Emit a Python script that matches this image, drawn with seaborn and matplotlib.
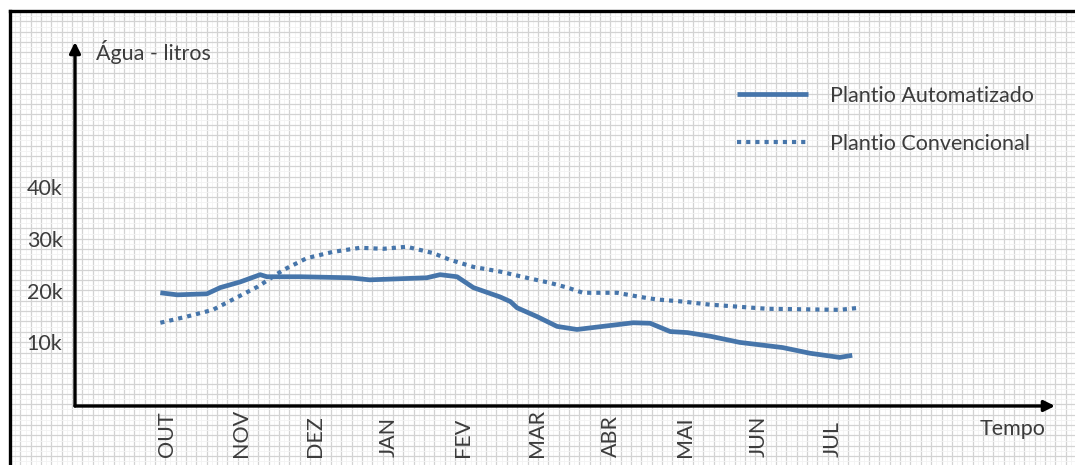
import numpy as np
import matplotlib
matplotlib.use('Agg')
import matplotlib.pyplot as plt
import seaborn as sns
from matplotlib.ticker import MultipleLocator, FuncFormatter

# dados (x em meses a partir de OUT, y em litros)
meses = ['OUT', 'NOV', 'DEZ', 'JAN', 'FEV', 'MAR', 'ABR', 'MAI', 'JUN', 'JUL']

auto_x = [-0.09, 0.14, 0.54, 0.72, 0.99, 1.26, 1.35, 1.80, 2.47, 2.74, 3.51, 3.69,
          3.92, 4.14, 4.50, 4.64, 4.73, 5.00, 5.27, 5.54, 5.89, 6.30, 6.53, 6.80,
          7.03, 7.34, 7.74, 8.32, 8.69, 9.09, 9.26]
auto_y = [19600, 19200, 19400, 20600, 21700, 23100, 22700, 22700, 22500, 22100,
          22500, 23100, 22700, 20600, 18800, 17900, 16700, 15000, 13100, 12500,
          13100, 13800, 13700, 12100, 11900, 11200, 10000, 9000, 7900, 7100, 7500]

conv_x = [-0.09, 0.27, 0.62, 0.89, 1.23, 1.57, 1.89, 2.24, 2.61, 2.92, 3.24, 3.59,
          3.82, 4.14, 4.50, 4.86, 5.18, 5.41, 5.62, 6.08, 6.39, 6.62, 6.97, 7.34,
          8.11, 9.09, 9.36]
conv_y = [13800, 15000, 16300, 18300, 20800, 24000, 26300, 27500, 28300, 28100,
          28500, 27300, 26000, 24600, 23700, 22500, 21500, 20600, 19600, 19600,
          18800, 18300, 17900, 17300, 16500, 16300, 16700]

y_ticks = [10000, 20000, 30000, 40000]

sns.set_style('white')
plt.rcParams['font.family'] = ['Lato', 'DejaVu Sans']
cor_texto = '#3c3c3c'
cor_linha = '#4675aa'
fs = 15.5

W, H = 1075, 465
fig = plt.figure(figsize=(W / 100, H / 100), dpi=100)
fig.patch.set_facecolor('white')

# fundo de papel milimetrado com borda
bg = fig.add_axes([10 / W, 0, 1 - 10 / W, (H - 11) / H], zorder=0)
bg.set_xlim(0, W - 10)
bg.set_ylim(H - 11, 0)
bg.xaxis.set_major_locator(MultipleLocator(10.35))
bg.yaxis.set_major_locator(MultipleLocator(10.35))
bg.xaxis.set_minor_locator(MultipleLocator(10.35 / 2))
bg.yaxis.set_minor_locator(MultipleLocator(10.35 / 2))
bg.grid(which='major', color='#d3d3d3', lw=0.9)
bg.grid(which='minor', color='#f3f3f3', lw=0.6)
bg.tick_params(which='both', length=0, labelbottom=False, labelleft=False)
for s in ['right', 'bottom']:
    bg.spines[s].set_visible(False)
for s in ['left', 'top']:
    bg.spines[s].set_linewidth(2.4)
    bg.spines[s].set_color('black')

# grafico principal
ax = fig.add_axes([75 / W, (H - 406) / H, (1055 - 75) / W, (406 - 42) / H], zorder=2)
ax.patch.set_alpha(0)

sns.lineplot(x=auto_x, y=auto_y, ax=ax, color=cor_linha, lw=3.4, sort=False,
             label='Plantio Automatizado', solid_capstyle='butt')
sns.lineplot(x=conv_x, y=conv_y, ax=ax, color=cor_linha, lw=3.0, sort=False,
             linestyle=(0, (1, 1.2)), dash_capstyle='butt',
             label='Plantio Convencional')

ax.set_xlim(-1.243, 12.0)
ax.set_ylim(-2300, 68100)

for s in ax.spines.values():
    s.set_visible(False)
ax.annotate('', xy=(0, 1), xytext=(0, 0), xycoords='axes fraction',
            arrowprops=dict(arrowstyle='-|>', lw=2.4, color='black',
                            mutation_scale=16, shrinkA=0, shrinkB=0))
ax.annotate('', xy=(1, 0), xytext=(0, 0), xycoords='axes fraction',
            arrowprops=dict(arrowstyle='-|>', lw=2.4, color='black',
                            mutation_scale=16, shrinkA=0, shrinkB=0))

ax.set_xticks(np.arange(len(meses)))
ax.set_xticklabels(meses, rotation=90, va='bottom', ha='center')
ax.set_yticks(y_ticks)
ax.yaxis.set_major_formatter(FuncFormatter(lambda v, p: f'{int(v / 1000)}k'))
ax.tick_params(axis='x', length=0, pad=36.5, labelsize=fs, labelcolor=cor_texto)
ax.tick_params(axis='y', length=0, pad=9, labelsize=fs, labelcolor=cor_texto)

ax.set_xlabel('Tempo', fontsize=fs, color=cor_texto, ha='right')
ax.xaxis.set_label_coords(0.99, -0.035)
ax.text(0.021, 0.972, 'Água - litros', transform=ax.transAxes, fontsize=fs,
        color=cor_texto, ha='left', va='center')

ax.legend(loc='upper left', bbox_to_anchor=(737 / W, 1 - 86 / H),
          bbox_transform=fig.transFigure, frameon=False, fontsize=fs,
          handlelength=3.3, handletextpad=1.0, labelspacing=1.3,
          borderpad=0, borderaxespad=0, labelcolor=cor_texto)

fig.savefig('out.png', dpi=100)
